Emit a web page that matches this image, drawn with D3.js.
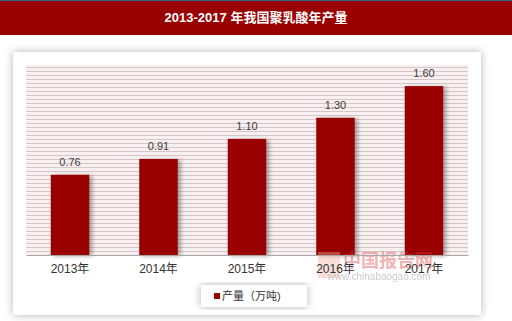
<!DOCTYPE html>
<html>
<head>
<meta charset="utf-8">
<script src="https://cdn.jsdelivr.net/npm/d3@7"></script>
<style>
body{margin:0;padding:0;background:#fff;}
text{font-family:"Liberation Sans","Noto Sans CJK SC",sans-serif;}
</style>
</head>
<body>
<div id="chart"></div>
<script>
var years = ["2013年","2014年","2015年","2016年","2017年"];
var output = [0.76, 0.91, 1.10, 1.30, 1.60];
var labels = ["0.76","0.91","1.10","1.30","1.60"];
var seriesName = "产量（万吨)";
var title = "2013-2017 年我国聚乳酸年产量";

var W = 512, H = 321;
var plot = {left: 26, right: 468, top: 65, bottom: 255};

var svg = d3.select("#chart").append("svg")
	.attr("width", W)
	.attr("height", H);

var defs = svg.append("defs");

var pat = defs.append("pattern")
	.attr("id", "stripes")
	.attr("patternUnits", "userSpaceOnUse")
	.attr("width", 8)
	.attr("height", 4);
pat.append("rect").attr("width", 8).attr("height", 4).attr("fill", "#f8f0f0");
pat.append("rect").attr("y", 3).attr("width", 8).attr("height", 1).attr("fill", "#d6c6c8");

var shadow = defs.append("filter").attr("id", "shadow")
	.attr("x", "-20%").attr("y", "-20%").attr("width", "140%").attr("height", "140%");
shadow.append("feDropShadow")
	.attr("dx", 3).attr("dy", 1).attr("stdDeviation", 2)
	.attr("flood-color", "#000").attr("flood-opacity", 0.35);

var panelShadow = defs.append("filter").attr("id", "pshadow")
	.attr("x", "-10%").attr("y", "-10%").attr("width", "120%").attr("height", "120%");
panelShadow.append("feDropShadow")
	.attr("dx", 0).attr("dy", 0).attr("stdDeviation", 4)
	.attr("flood-color", "#000").attr("flood-opacity", 0.3);

// title bar
svg.append("rect").attr("x", 0).attr("y", 0).attr("width", W).attr("height", 35).attr("fill", "#990000");
svg.append("rect").attr("x", 0).attr("y", 0).attr("width", W).attr("height", 1).attr("fill", "#2a6a86");
svg.append("text")
	.attr("x", W/2).attr("y", 22)
	.attr("text-anchor", "middle")
	.style("font-size", "13px")
	.style("font-weight", "bold")
	.attr("fill", "#fff")
	.text(title);

// panel
svg.append("rect")
	.attr("x", 13).attr("y", 52).attr("width", 468).attr("height", 263)
	.attr("fill", "#fff")
	.attr("filter", "url(#pshadow)");

// plot area
svg.append("rect")
	.attr("x", plot.left).attr("y", plot.top)
	.attr("width", plot.right - plot.left).attr("height", plot.bottom - plot.top)
	.attr("fill", "url(#stripes)");

var x = d3.scaleBand().domain(years).range([plot.left, plot.right]).paddingInner(0.565).paddingOuter(0.28);
var y = d3.scaleLinear().domain([0, 1.8]).range([plot.bottom, plot.top]);

svg.selectAll(".bar")
	.data(output)
	.enter()
	.append("rect")
	.attr("class", "bar")
	.attr("x", function(d,i){return x(years[i])})
	.attr("y", function(d){return y(d)})
	.attr("width", x.bandwidth())
	.attr("height", function(d){return y(0) - y(d)})
	.attr("fill", "#990000")
	.attr("filter", "url(#shadow)");

svg.selectAll(".lbl")
	.data(output)
	.enter()
	.append("text")
	.attr("class", "lbl")
	.attr("x", function(d,i){return x(years[i]) + x.bandwidth()/2})
	.attr("y", function(d){return y(d) - 9})
	.attr("text-anchor", "middle")
	.style("font-size", "11px")
	.attr("fill", "#404040")
	.text(function(d,i){return labels[i]});

// watermark (sits under the axis labels, as in the source)
var wm = svg.append("g").attr("opacity", 0.4);
wm.append("rect")
	.attr("x", 318).attr("y", 252).attr("width", 22).attr("height", 26)
	.attr("fill", "#f0b0a0");
wm.append("text")
	.attr("x", 388).attr("y", 267)
	.attr("text-anchor", "middle")
	.style("font-size", "18px")
	.style("font-weight", "bold")
	.attr("fill", "#e04040")
	.text("中国报告网");
wm.append("text")
	.attr("x", 379).attr("y", 280)
	.attr("text-anchor", "middle")
	.style("font-size", "10px")
	.attr("fill", "#777")
	.text("www.chinabaogao.com");

var xAxis = d3.axisBottom(x).tickSize(0).tickPadding(9);
var gx = svg.append("g")
	.attr("transform", "translate(0," + plot.bottom + ")")
	.call(xAxis);
gx.select(".domain").attr("stroke", "#a6a6a6");
gx.selectAll("text")
	.style("font-size", "12px")
	.style("font-family", "'Liberation Sans','Noto Sans CJK SC',sans-serif")
	.attr("fill", "#333");

// legend
svg.append("rect")
	.attr("x", 201).attr("y", 285).attr("width", 106).attr("height", 22)
	.attr("fill", "#fff")
	.attr("filter", "url(#pshadow)");
svg.append("rect")
	.attr("x", 214).attr("y", 293).attr("width", 6).attr("height", 6)
	.attr("fill", "#990000");
svg.append("text")
	.attr("x", 222).attr("y", 300)
	.style("font-size", "11px")
	.attr("fill", "#333")
	.text(seriesName);
</script>
</body>
</html>
